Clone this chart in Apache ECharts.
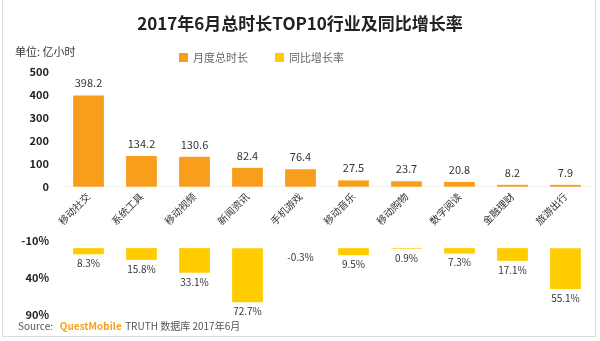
<!DOCTYPE html>
<html><head><meta charset="utf-8">
<script src="https://cdn.jsdelivr.net/npm/echarts@6/dist/echarts.min.js"></script>
<style>
html,body{margin:0;padding:0;background:#fff;}
#frame{position:absolute;left:2px;top:-2px;width:594px;height:339px;border:1px solid #dcdcdc;box-sizing:border-box;}
#main{position:absolute;left:0;top:0;width:600px;height:341px;}
</style></head>
<body><div id="frame"></div><div id="main"></div>
<script>
const categories = ['移动社交','系统工具','移动视频','新闻资讯','手机游戏','移动音乐','移动购物','数字阅读','金融理财','旅游出行'];
const hours = [398.2, 134.2, 130.6, 82.4, 76.4, 27.5, 23.7, 20.8, 8.2, 7.9];
const growth = [8.3, 15.8, 33.1, 72.7, -0.3, 9.5, 0.9, 7.3, 17.1, 55.1];
const hourTicks = [0, 100, 200, 300, 400, 500];
const growthTicks = [-10, 40, 90];

const FONT = '"Noto Sans CJK SC", "Noto Sans", sans-serif';
const growthData = growth.map(v => v < 0 ? {value:v, itemStyle:{color:'#e4e4e4'}} : v);
const chart = echarts.init(document.getElementById('main'), null, {renderer:'canvas'});
chart.setOption({
  animation:false,
  textStyle:{fontFamily:FONT},
  title:{text:'2017年6月总时长TOP10行业及同比增长率', left:'center', top:10,
    textStyle:{fontSize:17, fontWeight:'bold', color:'#222', fontFamily:FONT}},
  legend:{left:174, top:47, itemWidth:9, itemHeight:9, itemGap:27, icon:'rect',
    textStyle:{fontSize:11, color:'#666', fontFamily:FONT},
    data:['月度总时长','同比增长率']},
  graphic:[
    {type:'text', left:15, top:46, style:{text:'单位: 亿小时', fontSize:11, fill:'#333', fontFamily:FONT}},
    {type:'text', left:18, top:320, style:{
      text:'{a|Source:   }{b|QuestMobile} {c|TRUTH 数据库 2017年6月}',
      rich:{
        a:{fontSize:10, fill:'#555', fontFamily:FONT},
        b:{fontSize:10, fill:'#F7A21C', fontWeight:'bold', fontFamily:FONT},
        c:{fontSize:10, fill:'#555', fontFamily:FONT}
      }}}
  ],
  grid:[
    {left:62, right:8, top:72.3, height:114.4},
    {left:62, right:8, top:240.7, height:74.3}
  ],
  xAxis:[
    {type:'category', gridIndex:0, data:categories,
      axisLine:{lineStyle:{color:'#f0f0f0'}}, axisTick:{show:false},
      axisLabel:{rotate:45, fontSize:10, color:'#333', margin:8, interval:0, fontFamily:FONT}},
    {type:'category', gridIndex:1, data:categories, show:false}
  ],
  yAxis:[
    {type:'value', gridIndex:0, min:hourTicks[0], max:hourTicks[hourTicks.length-1], interval:100,
      splitLine:{show:false}, axisLine:{show:false}, axisTick:{show:false},
      axisLabel:{fontSize:11, color:'#222', fontWeight:'bold', margin:13, fontFamily:FONT}},
    {type:'value', gridIndex:1, inverse:true, min:growthTicks[0], max:growthTicks[growthTicks.length-1], interval:50,
      splitLine:{show:false}, axisLine:{show:false}, axisTick:{show:false},
      axisLabel:{fontSize:11, color:'#222', fontWeight:'bold', margin:13, formatter:'{value}%', fontFamily:FONT}}
  ],
  series:[
    {name:'月度总时长', type:'bar', xAxisIndex:0, yAxisIndex:0, data:hours, barWidth:'58%',
      itemStyle:{color:'#F99D1C'},
      label:{show:true, position:'top', distance:7, fontSize:11, color:'#333', fontFamily:FONT}},
    {name:'同比增长率', type:'bar', xAxisIndex:1, yAxisIndex:1, data:growthData, barWidth:'58%',
      itemStyle:{color:'#FFCC00'},
      label:{show:true, position:'bottom', distance:4, fontSize:10, color:'#333', formatter:'{c}%', fontFamily:FONT}}
  ]
});
</script></body></html>
